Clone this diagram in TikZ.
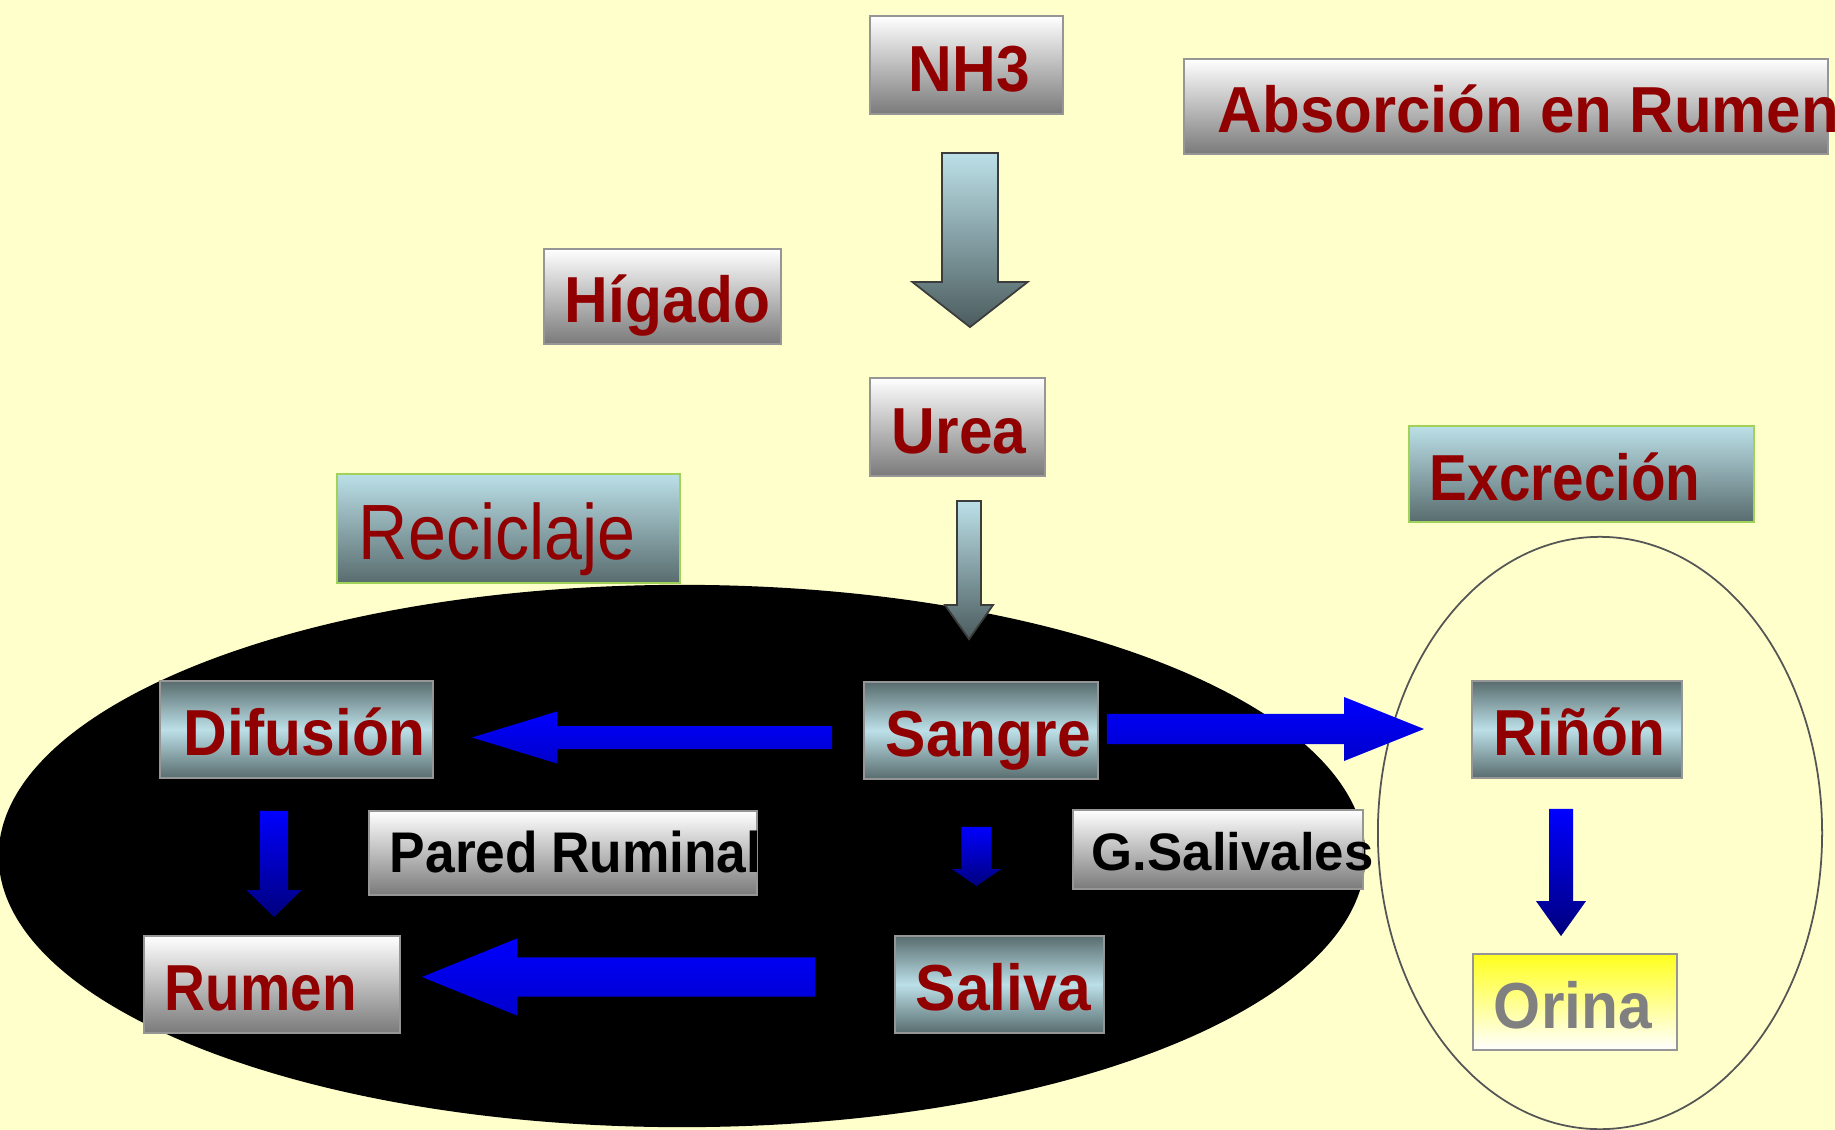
\documentclass[tikz,border=0pt]{standalone}
\usepackage{fontspec}
\usetikzlibrary{calc}
\setmainfont{Liberation Sans}
\newfontfamily\boxfont{Liberation Sans}[FakeStretch=0.93]
\newfontfamily\widefont{Liberation Sans}[FakeStretch=0.95]
\newfontfamily\tightfont{Liberation Sans}[FakeStretch=0.87]
\newfontfamily\thinfont{Liberation Sans}[FakeStretch=0.87]

\definecolor{paper}{RGB}{255,255,204}
\definecolor{darkred}{RGB}{145,0,0}
\definecolor{paleblue}{RGB}{188,224,232}
\definecolor{slate}{RGB}{88,108,110}
\definecolor{boxgray}{RGB}{122,122,122}
\definecolor{boxedge}{RGB}{150,150,150}
\definecolor{leafgreen}{RGB}{160,210,90}
\definecolor{urineyellow}{RGB}{255,255,30}
\definecolor{urinegray}{RGB}{128,128,128}
\definecolor{arrowedge}{RGB}{60,60,60}
\definecolor{arrowblue}{RGB}{0,0,255}
\definecolor{arrownavy}{RGB}{0,0,125}
\definecolor{rimgray}{RGB}{85,85,85}

\newcommand{\bigtxt}{\fontsize{18.5}{20}\selectfont\boxfont\bfseries}
\newcommand{\tighttxt}{\fontsize{18.5}{20}\selectfont\tightfont\bfseries}
\newcommand{\widetxt}{\fontsize{18.5}{20}\selectfont\widefont\bfseries}

% block arrow: [style]{tail}{tip}{shaft half width}{head half width}{head length}
\newcommand{\blockarrow}[6][]{%
  \coordinate (ba-base) at ($(#3)!#6!(#2)$);
  \path[#1] ($(#2)!#4!90:(#3)$) -- ($(ba-base)!#4!-90:(#2)$) -- ($(ba-base)!#5!-90:(#2)$)
    -- (#3) -- ($(ba-base)!#5!90:(#2)$) -- ($(ba-base)!#4!90:(#2)$) -- ($(#2)!#4!-90:(#3)$) -- cycle;}

\tikzset{
  panel/.style={rectangle, inner ysep=0pt, align=left, text height=0.52cm, text depth=0pt,
    font=\bigtxt, text=darkred},
  graybox/.style={panel, draw=boxedge, line width=0.5pt, top color=white, bottom color=boxgray},
  bluebox/.style={panel, draw=boxedge, line width=0.5pt, top color=slate, bottom color=slate, middle color=paleblue},
  titlebox/.style={panel, draw=leafgreen, line width=0.7pt, top color=paleblue, bottom color=slate},
  urinebox/.style={panel, draw=boxedge, line width=0.5pt, top color=urineyellow, bottom color=white, text=urinegray},
  grayarrow/.style={draw=arrowedge, line width=0.5pt, top color=paleblue, bottom color=slate!85!black},
  bluearrow/.style={top color=arrowblue, bottom color=arrowblue!80!black},
  bluedrop/.style={top color=arrowblue, bottom color=arrownavy}
}

\begin{document}
\begin{tikzpicture}[x=0.01cm,y=-0.01cm]
  % Background and the two regions
  \fill[paper] (0,0) rectangle (1835,1130);
  \useasboundingbox (0,0) rectangle (1835,1130);
  \fill[black] (682,856) ellipse [x radius=6.83cm, y radius=2.71cm];
  \draw[rimgray, line width=0.5pt] (1600,833) ellipse [x radius=2.22cm, y radius=2.96cm];

  % Upper boxes
  \node[graybox, minimum width=1.93cm, minimum height=0.98cm, text width=1.15cm, inner xsep=0.39cm] (nh3) at (966.5,65) {\mbox{NH3}};
  \node[graybox, minimum width=6.44cm, minimum height=0.95cm, text width=5.76cm, inner xsep=0.34cm,
    font=\widetxt] (absor) at (1506,106.5) {\mbox{Absorción\hspace{0.17cm}en\hspace{0.17cm}Rumen}};
  \node[graybox, minimum width=2.37cm, minimum height=0.95cm, text width=1.95cm, inner xsep=0.21cm] (higado) at (662.5,296.5) {\mbox{Hígado}};
  \node[graybox, minimum width=1.75cm, minimum height=0.98cm, text width=1.31cm, inner xsep=0.22cm] (urea) at (957.5,427) {\mbox{Urea}};
  \node[titlebox, minimum width=3.43cm, minimum height=1.09cm, text width=2.99cm, inner xsep=0.22cm,
    text height=0.61cm, font=\fontsize{22.3}{24}\selectfont\thinfont] (recic) at (508.5,528.5) {\mbox{Reciclaje}};
  \node[titlebox, minimum width=3.45cm, minimum height=0.96cm, text width=3.03cm, inner xsep=0.21cm,
    font=\tighttxt] (excre) at (1581.5,474) {\mbox{Excreción}};

  % Boxes inside the regions
  \node[bluebox, minimum width=2.73cm, minimum height=0.97cm, text width=2.25cm, inner xsep=0.24cm] (difus) at (296.5,729.5) {\mbox{Difusión}};
  \node[bluebox, minimum width=2.34cm, minimum height=0.97cm, text width=1.90cm, inner xsep=0.22cm] (sangre) at (981,730.5) {\mbox{Sangre}};
  \node[graybox, minimum width=3.88cm, minimum height=0.84cm, text width=3.46cm, inner xsep=0.21cm,
    text height=0.38cm, text=black, font=\fontsize{16.3}{18}\selectfont\boxfont\bfseries] (pared) at (563,853) {\mbox{Pared\hspace{0.13cm}Ruminal}};
  \node[graybox, minimum width=2.90cm, minimum height=0.79cm, text width=2.52cm, inner xsep=0.19cm,
    text height=0.41cm, text=black, font=\fontsize{15}{17}\selectfont\bfseries] (gsal) at (1218,849.5) {\mbox{G.Salivales}};
  \node[graybox, minimum width=2.56cm, minimum height=0.97cm, text width=2.14cm, inner xsep=0.21cm,
    font=\tighttxt] (rumen) at (272,984.5) {\mbox{Rumen}};
  \node[bluebox, minimum width=2.09cm, minimum height=0.97cm, text width=1.67cm, inner xsep=0.21cm] (saliva) at (999.5,984.5) {\mbox{Saliva}};
  \node[bluebox, minimum width=2.10cm, minimum height=0.97cm, text width=1.66cm, inner xsep=0.22cm] (rinon) at (1577,729.5) {\mbox{Riñón}};
  \node[urinebox, minimum width=2.04cm, minimum height=0.96cm, text width=1.62cm, inner xsep=0.21cm] (orina) at (1575,1002) {\mbox{Orina}};

  % Block arrows
  \coordinate (nh3-out) at ($(nh3.south)+(3.5,38)$);
  \coordinate (urea-in) at ($(urea.north)+(12.5,-50)$);
  \blockarrow[grayarrow]{nh3-out}{urea-in}{0.28cm}{0.575cm}{0.45cm}

  \coordinate (urea-out) at ($(urea.south)+(11.5,24)$);
  \coordinate (sangre-in) at ($(sangre.north)+(-12,-42)$);
  \blockarrow[grayarrow]{urea-out}{sangre-in}{0.12cm}{0.24cm}{0.34cm}

  \coordinate (sangre-left) at ($(sangre.west)+(-31,7)$);
  \coordinate (difus-in) at ($(difus.east)+(38,8)$);
  \blockarrow[bluearrow]{sangre-left}{difus-in}{0.115cm}{0.26cm}{0.85cm}

  \coordinate (sangre-right) at ($(sangre.east)+(8,-1.5)$);
  \coordinate (rinon-in) at ($(rinon.west)+(-47,-0.5)$);
  \blockarrow[bluearrow]{sangre-right}{rinon-in}{0.15cm}{0.32cm}{0.80cm}

  \coordinate (difus-out) at ($(difus.south)+(-22.5,32)$);
  \coordinate (rumen-in) at ($(rumen.north)+(2,-18)$);
  \blockarrow[bluedrop]{difus-out}{rumen-in}{0.14cm}{0.275cm}{0.27cm}

  \coordinate (sangre-down) at ($(sangre.south)+(-4.5,47)$);
  \coordinate (saliva-in) at ($(saliva.north)+(-23,-49)$);
  \blockarrow[bluedrop]{sangre-down}{saliva-in}{0.15cm}{0.245cm}{0.17cm}

  \coordinate (saliva-out) at ($(saliva.west)+(-79,-7.5)$);
  \coordinate (rumen-right) at ($(rumen.east)+(21,-7.5)$);
  \blockarrow[bluearrow]{saliva-out}{rumen-right}{0.195cm}{0.385cm}{0.95cm}

  \coordinate (rinon-out) at ($(rinon.south)+(-16,30)$);
  \coordinate (orina-in) at ($(orina.north)+(-14,-17)$);
  \blockarrow[bluedrop]{rinon-out}{orina-in}{0.12cm}{0.25cm}{0.35cm}
\end{tikzpicture}
\end{document}
